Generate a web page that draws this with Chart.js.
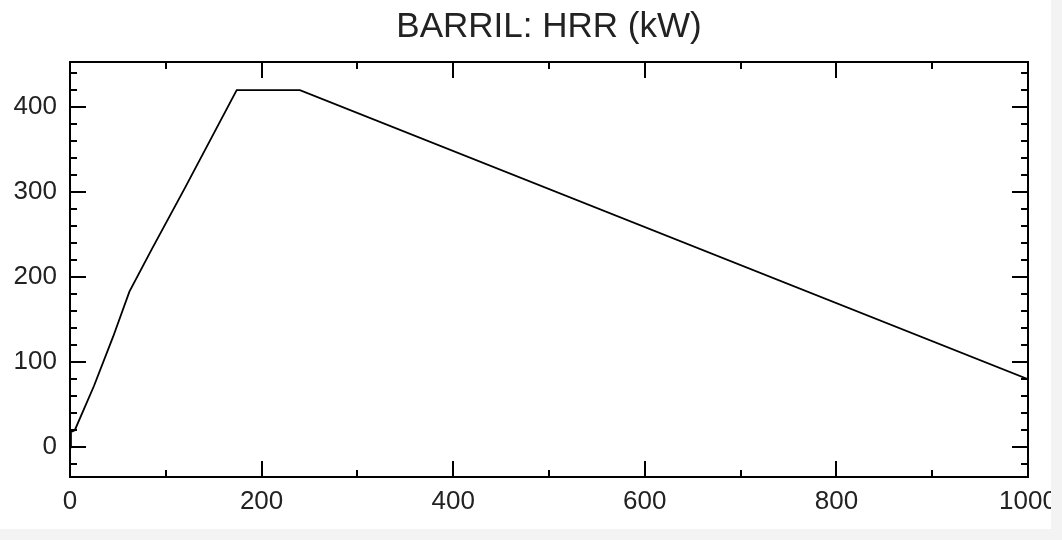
<!DOCTYPE html>
<html>
<head>
<meta charset="utf-8">
<script src="https://cdn.jsdelivr.net/npm/chart.js@4/dist/chart.umd.min.js"></script>
<style>
  html, body { margin: 0; padding: 0; background: #ffffff; }
  #wrap { position: relative; width: 1062px; height: 540px; overflow: hidden; }
  #c { position: absolute; left: 0; top: 0; }
  .strip { position: absolute; background: #f3f3f3; }
</style>
</head>
<body>
<div id="wrap">
  <canvas id="c" width="1062" height="540"></canvas>
  <div class="strip" style="left:1051px; top:0; width:11px; height:540px;"></div>
  <div class="strip" style="left:0; top:529px; width:1062px; height:11px;"></div>
</div>
<script>
const chartTitle = 'BARRIL: HRR (kW)';
const timeValues = [0, 1, 5, 25, 45, 62, 85, 120, 174, 240, 1000];
const hrrValues  = [0, 18, 20, 72, 130, 183, 232, 305, 420, 420, 80];
const xMajorTicks = [0, 200, 400, 600, 800, 1000];
const xMinorTicks = [100, 300, 500, 700, 900];
const yMajorTicks = [0, 100, 200, 300, 400];
const yMinorTicks = [-20, 20, 40, 60, 80, 120, 140, 160, 180, 220, 240, 260, 280, 320, 340, 360, 380, 420, 440];
const xRange = [0, 1000];
const yRange = [-35, 453];

const points = timeValues.map((t, i) => ({ x: t, y: hrrValues[i] }));

const framePlugin = {
  id: 'frame',
  afterDatasetsDraw(chart) {
    const { ctx, chartArea: a, scales: { x, y } } = chart;
    ctx.save();
    ctx.strokeStyle = '#000';
    ctx.lineWidth = 2;
    ctx.beginPath();
    const major = 16, minor = 7;
    xMajorTicks.forEach(v => {
      const px = Math.round(x.getPixelForValue(v));
      ctx.moveTo(px, a.bottom); ctx.lineTo(px, a.bottom - major);
      ctx.moveTo(px, a.top); ctx.lineTo(px, a.top + major);
    });
    xMinorTicks.forEach(v => {
      const px = Math.round(x.getPixelForValue(v));
      ctx.moveTo(px, a.bottom); ctx.lineTo(px, a.bottom - minor);
      ctx.moveTo(px, a.top); ctx.lineTo(px, a.top + minor);
    });
    yMajorTicks.forEach(v => {
      const py = Math.round(y.getPixelForValue(v));
      ctx.moveTo(a.left, py); ctx.lineTo(a.left + major, py);
      ctx.moveTo(a.right, py); ctx.lineTo(a.right - major, py);
    });
    yMinorTicks.forEach(v => {
      const py = Math.round(y.getPixelForValue(v));
      ctx.moveTo(a.left, py); ctx.lineTo(a.left + minor, py);
      ctx.moveTo(a.right, py); ctx.lineTo(a.right - minor, py);
    });
    ctx.stroke();
    ctx.beginPath();
    ctx.rect(a.left, a.top, a.right - a.left, a.bottom - a.top);
    ctx.stroke();
    ctx.restore();
  }
};

new Chart(document.getElementById('c'), {
  type: 'line',
  data: {
    datasets: [{
      data: points,
      borderColor: '#000',
      borderWidth: 1.8,
      pointRadius: 0,
      tension: 0,
      fill: false
    }]
  },
  options: {
    responsive: false,
    animation: false,
    layout: { padding: { left: 0, right: 34, top: 0, bottom: 0 } },
    plugins: {
      legend: { display: false },
      tooltip: { enabled: false },
      title: {
        display: true,
        fullSize: false,
        text: chartTitle,
        color: '#222',
        font: { family: 'Liberation Sans, Arial, sans-serif', size: 35, weight: 'normal', lineHeight: 1.2 },
        padding: { top: 6, bottom: 14 }
      }
    },
    scales: {
      x: {
        type: 'linear',
        min: xRange[0], max: xRange[1],
        grid: { display: false, drawTicks: false },
        border: { display: false },
        afterBuildTicks: s => { s.ticks = xMajorTicks.map(v => ({ value: v })); },
        afterFit: s => { s.height = 63; s.paddingRight = 0; s.paddingLeft = 0; },
        ticks: {
          color: '#222',
          padding: 9,
          maxRotation: 0,
          autoSkip: false,
          callback: v => String(v),
          font: { family: 'Liberation Sans, Arial, sans-serif', size: 26 }
        }
      },
      y: {
        type: 'linear',
        min: yRange[0], max: yRange[1],
        grid: { display: false, drawTicks: false },
        border: { display: false },
        afterBuildTicks: s => { s.ticks = yMajorTicks.map(v => ({ value: v })); },
        afterFit: s => { s.width = 70; },
        ticks: {
          color: '#222',
          padding: 13,
          autoSkip: false,
          callback: v => String(v),
          font: { family: 'Liberation Sans, Arial, sans-serif', size: 26 }
        }
      }
    }
  },
  plugins: [framePlugin]
});
</script>
</body>
</html>
